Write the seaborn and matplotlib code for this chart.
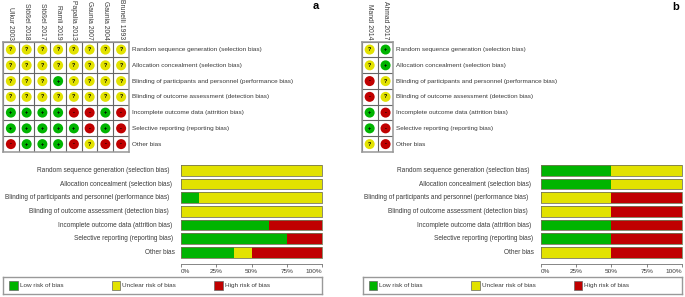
import pandas as pd
import matplotlib
matplotlib.use("Agg")
import matplotlib.pyplot as plt
import seaborn as sns

W, H = 685, 297

domains = [
    "Random sequence generation (selection bias)",
    "Allocation concealment (selection bias)",
    "Blinding of participants and personnel (performance bias)",
    "Blinding of outcome assessment (detection bias)",
    "Incomplete outcome data (attrition bias)",
    "Selective reporting (reporting bias)",
    "Other bias",
]

# ket qua tung nghien cuu, moi chuoi theo thu tu domains
studies_a = ["Ulkur 2003", "Stößel 2018", "Stößel 2017", "Ramli 2019",
             "Papalia 2013", "Gaunia 2007", "Gaunia 2004", "Brunelli 1993"]
ratings_a = ["????++-", "????+++", "????+++", "??+?+++",
             "????-+-", "????--?", "????++-", "????---"]
studies_b = ["Mandl 2014", "Ahmad 2017"]
ratings_b = ["??--++?", "++??---"]

# phan tram low / unclear / high
low_a = [0, 0, 12.5, 0, 62.5, 75, 37.5]
unclear_a = [100, 100, 87.5, 100, 0, 0, 12.5]
high_a = [0, 0, 0, 0, 37.5, 25, 50]
low_b = [50, 50, 0, 0, 50, 50, 0]
unclear_b = [50, 50, 50, 50, 0, 0, 50]
high_b = [0, 0, 50, 50, 50, 50, 50]

pct_ticks = [0, 25, 50, 75, 100]
pct_labels = ["0%", "25%", "50%", "75%", "100%"]
legend_labels = ["Low risk of bias", "Unclear risk of bias", "High risk of bias"]

GREEN, YELLOW, RED = "#00b400", "#e2e200", "#c00000"
COLORS = {"+": GREEN, "?": YELLOW, "-": RED}
TXT = "#3a3a3a"
GRID = "#666666"
FRAME = "#999999"
FS = 4.55

# khoang lech (px) giua nhan va thanh, nhan trong hinh goc khong thang hang
LABEL_GAPS = [11.5, 9.5, 12, 12.5, 9, 8, 6.5]


def px_axes(fig, x0, y0, x1, y1):
    # toa do pixel tinh tu goc tren ben trai
    return fig.add_axes([x0 / W, 1 - y1 / H, (x1 - x0) / W, (y1 - y0) / H])


def traffic_light(fig, studies, ratings, box):
    ax = px_axes(fig, *box)
    rows = [{"study": s, "domain": d, "rating": r}
            for s, col in zip(studies, ratings)
            for d, r in zip(domains, col)]
    df = pd.DataFrame(rows)
    df["x"] = df["study"].map({s: i for i, s in enumerate(studies)})
    df["y"] = df["domain"].map({d: i for i, d in enumerate(domains)})
    sns.scatterplot(data=df, x="x", y="y", hue="rating", palette=COLORS, s=52,
                    linewidth=0, legend=False, ax=ax, zorder=3, clip_on=False)
    for _, r in df.iterrows():
        ax.text(r["x"], r["y"], r["rating"], ha="center", va="center",
                fontsize=4, color="black", fontweight="bold", zorder=4)
    ax.set_xlim(-0.5, len(studies) - 0.5)
    ax.set_ylim(len(domains) - 0.5, -0.5)
    ax.set_xticks([i - 0.5 for i in range(len(studies) + 1)])
    ax.set_yticks([i - 0.5 for i in range(len(domains) + 1)])
    ax.grid(True, color=GRID, lw=0.8)
    ax.tick_params(length=0, labelbottom=False, labelleft=False)
    ax.set_axisbelow(True)
    ax.set_xlabel("")
    ax.set_ylabel("")
    for sp in ax.spines.values():
        sp.set_color(FRAME)
        sp.set_linewidth(1.1)
    for i, s in enumerate(studies):
        ax.annotate(s, (i, 1), xycoords=("data", "axes fraction"),
                    xytext=(0, 1.5), textcoords="offset points", rotation=270,
                    ha="center", va="bottom", fontsize=4.85, color=TXT)
    for i, d in enumerate(domains):
        ax.annotate(d, (1, i), xycoords=("axes fraction", "data"),
                    xytext=(2, 0), textcoords="offset points",
                    va="center", ha="left", fontsize=FS, color=TXT)


def summary_bars(fig, low, unclear, high, box):
    ax = px_axes(fig, *box)
    df = pd.DataFrame({"domain": domains, "low": low, "unclear": unclear, "high": high})
    df["c2"] = df["low"] + df["unclear"]
    df["c3"] = df["c2"] + df["high"]
    # ve chong tu dai den ngan de ra thanh xep chong
    for col, c in (("c3", RED), ("c2", YELLOW), ("low", GREEN)):
        sns.barplot(data=df, y="domain", x=col, color=c, saturation=1, width=0.78,
                    edgecolor="none", ax=ax, zorder=2)
    ax.set_xlim(0, 100)
    ax.set_ylim(6.5, -0.5)
    ax.set_xlabel("")
    ax.set_ylabel("")
    sns.despine(ax=ax, left=True, top=True, right=True)
    ax.spines["bottom"].set_position(("outward", 3.2))
    ax.spines["bottom"].set_linewidth(0.5)
    ax.spines["bottom"].set_color("#555555")
    # set_position xoa tick nen dat tick sau do
    ax.set_xticks(pct_ticks)
    ax.set_xticklabels(pct_labels, fontsize=FS, color=TXT)
    for lab, ha in zip(ax.get_xticklabels(), ["left", "center", "center", "center", "right"]):
        lab.set_ha(ha)
    ax.tick_params(axis="x", bottom=True, length=2.2, width=0.5, color="#555555", pad=1.6)
    ax.set_yticks([])
    for i, d in enumerate(domains):
        ax.annotate(d, (0, i), xycoords=("axes fraction", "data"),
                    xytext=(-LABEL_GAPS[i] * 0.72, 0), textcoords="offset points",
                    ha="right", va="center", fontsize=4.72, color=TXT, annotation_clip=False)
    # vien xam cho tung thanh
    for y in range(len(domains)):
        ax.plot([0, 100, 100, 0, 0], [y - 0.39, y - 0.39, y + 0.39, y + 0.39, y - 0.39],
                color="#777755", lw=0.6, zorder=3, clip_on=False)


def legend_box(fig, box):
    ax = px_axes(fig, *box)
    ax.set_xlim(box[0], box[2])
    ax.set_ylim(box[3], box[1])
    ax.set_xticks([])
    ax.set_yticks([])
    for sp in ax.spines.values():
        sp.set_color(FRAME)
        sp.set_linewidth(1.0)
    for off, lab, c in zip((6, 108.5, 211), legend_labels, (GREEN, YELLOW, RED)):
        x = box[0] + off
        ax.add_patch(plt.Rectangle((x, box[1] + 4.3), 8.5, 9, fc=c, ec="#666666", lw=0.5))
        ax.text(x + 10.7, (box[1] + box[3]) / 2 + 0.3, lab, va="center", ha="left",
                fontsize=FS, color=TXT)


def main():
    sns.set_theme(style="white")
    plt.rcParams["font.family"] = ["Liberation Sans", "DejaVu Sans"]
    fig = plt.figure(figsize=(W / 100, H / 100), dpi=100)

    traffic_light(fig, studies_a, ratings_a, (3, 41.7, 129, 152))
    traffic_light(fig, studies_b, ratings_b, (361.7, 41.7, 393.5, 152))
    summary_bars(fig, low_a, unclear_a, high_a, (181, 163.5, 322, 259.2))
    summary_bars(fig, low_b, unclear_b, high_b, (540.7, 163.5, 682, 259.2))
    legend_box(fig, (3, 276.7, 322, 294))
    legend_box(fig, (362.7, 276.7, 682, 294))

    fig.text(316 / W, 1 - 6 / H, "a", fontsize=8, fontweight="bold", color="black", ha="center", va="center")
    fig.text(675.7 / W, 1 - 6.5 / H, "b", fontsize=8, fontweight="bold", color="black", ha="center", va="center")

    fig.savefig("out.png", dpi=100)
    plt.close(fig)


if __name__ == "__main__":
    main()
